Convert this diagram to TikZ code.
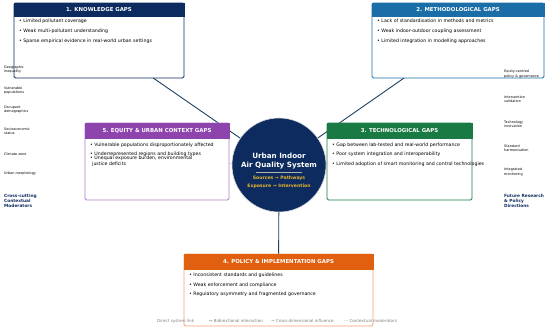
\documentclass[tikz,border=0pt]{standalone}
\usepackage{fontspec}
\setmainfont{DejaVu Sans}
\usepackage{tikz}
\usetikzlibrary{backgrounds}

\definecolor{CoreNavy}{HTML}{0D2B5E}
\definecolor{MethodBlue}{HTML}{1A6DA6}
\definecolor{TechGreen}{HTML}{1A7A44}
\definecolor{EquityPurple}{HTML}{8E44AD}
\definecolor{EquityLine}{HTML}{B27CC6}
\definecolor{PolicyOrange}{HTML}{E0600F}
\definecolor{PolicyLine}{HTML}{EFA274}
\definecolor{FlowGold}{HTML}{E8B32E}
\definecolor{LinkNavy}{HTML}{1F3F63}

\tikzset{
  gapbox/.style={draw=#1, fill=white, line width=0.8pt, rounded corners=1.5pt,
    anchor=north west, inner sep=0pt, outer sep=0pt},
  gaphead/.style={draw=#1, fill=#1, line width=0.8pt, text=white,
    font=\fontsize{5.4}{6}\selectfont\bfseries, anchor=north west,
    inner sep=0pt, outer sep=0pt},
  gapitem/.style={anchor=west, align=left, inner sep=0pt,
    font=\fontsize{4.7}{6}\selectfont},
  sidelabel/.style={anchor=west, align=left, inner sep=0pt,
    font=\fontsize{3.4}{4.4}\selectfont},
  sidehead/.style={anchor=west, align=left, inner sep=0pt, text=CoreNavy,
    font=\fontsize{4.3}{5.2}\selectfont\bfseries},
  corelink/.style={draw=LinkNavy, line width=0.9pt},
  softlink/.style={draw=gray!35, line width=0.5pt},
  legendtext/.style={anchor=west, inner sep=0pt, text=gray,
    font=\fontsize{4.1}{5}\selectfont},
}

\begin{document}
\begin{tikzpicture}[x=1pt, y=-1pt]
\useasboundingbox (0,0) rectangle (550,329);
%%
\node (sys_core) at (279,165)
  [circle, fill=CoreNavy, draw=gray!30, line width=0.6pt,
   minimum size=94pt, inner sep=0pt] {};
\node (sys_title) at (279,161.5)
  [align=center, text=white, font=\fontsize{7.2}{9}\selectfont\bfseries]
  {Urban Indoor\\Air Quality System};
\draw [gray!60, line width=0.4pt] (256,172) -- (302,172);
\node (sys_flow) at (279,182)
  [align=center, text=FlowGold, font=\fontsize{4.6}{8}\selectfont\bfseries]
  {Sources → Pathways\\Exposure → Intervention};

%% 1. knowledge
\node (gap_knowledge) at (14,3)
  [gapbox=CoreNavy, minimum width=170pt, minimum height=75pt] {};
\node (head_knowledge) at (gap_knowledge.north west)
  [gaphead=CoreNavy, minimum width=170pt, minimum height=13pt] {1. KNOWLEDGE GAPS};
\node (k_a) at (19,21) [gapitem] {• Limited pollutant coverage};
\node (k_b) at (19,31) [gapitem] {• Weak multi-pollutant understanding};
\node (k_c) at (19,41) [gapitem] {• Sparse empirical evidence in real-world urban settings};

%% 2. methodological
\node (gap_method) at (372,3)
  [gapbox=MethodBlue, minimum width=172pt, minimum height=75pt] {};
\node (head_method) at (gap_method.north west)
  [gaphead=MethodBlue, minimum width=172pt, minimum height=13pt] {2. METHODOLOGICAL GAPS};
\node (m_a) at (377,21) [gapitem] {• Lack of standardisation in methods and metrics};
\node (m_b) at (377,31) [gapitem] {• Weak indoor-outdoor coupling assessment};
\node (m_c) at (377,41) [gapitem] {• Limited integration in modelling approaches};

%% 5. equity
\node (gap_equity) at (85,123)
  [gapbox=EquityLine, minimum width=144pt, minimum height=77pt] {};
\node (head_equity) at (gap_equity.north west)
  [gaphead=EquityPurple, minimum width=144pt, minimum height=15pt] {5. EQUITY \& URBAN CONTEXT GAPS};
\node (e_a) at (90,145) [gapitem] {• Vulnerable populations disproportionately affected};
\node (e_b) at (90,154.5) [gapitem] {• Underrepresented regions and building types};
\node (e_c) at (90,161.5) [gapitem]
  {• Unequal exposure burden, environmental\\\hspace{2pt}justice deficits};

%% 3. technological
\node (gap_tech) at (327,123)
  [gapbox=TechGreen, minimum width=145pt, minimum height=77pt] {};
\node (head_tech) at (gap_tech.north west)
  [gaphead=TechGreen, minimum width=145pt, minimum height=15pt] {3. TECHNOLOGICAL GAPS};
\node (t_a) at (332,145) [gapitem] {• Gap between lab-tested and real-world performance};
\node (t_b) at (332,154.5) [gapitem] {• Poor system integration and interoperability};
\node (t_c) at (332,164) [gapitem] {• Limited adoption of smart monitoring and control technologies};

%% 4. policy
\node (gap_policy) at (184,254)
  [gapbox=PolicyLine, minimum width=189pt, minimum height=72pt] {};
\node (head_policy) at (gap_policy.north west)
  [gaphead=PolicyOrange, minimum width=189pt, minimum height=15pt] {4. POLICY \& IMPLEMENTATION GAPS};
\node (p_a) at (189,275) [gapitem] {• Inconsistent standards and guidelines};
\node (p_b) at (189,285) [gapitem] {• Weak enforcement and compliance};
\node (p_c) at (189,294) [gapitem] {• Regulatory asymmetry and fragmented governance};

%% links behind everything
\begin{pgfonlayer}{background}
\draw [corelink] (gap_knowledge.center) -- (sys_core.center);
\draw [corelink] (gap_method.center) -- (sys_core.center);
\draw [corelink] (gap_policy.center) -- (sys_core.center);
\draw [softlink] (gap_equity.center) -- (sys_core.center);
\draw [softlink] (gap_tech.center) -- (sys_core.center);
\end{pgfonlayer}

%% contextual moderators
\node (mod_geo) at (4,69.5) [sidelabel] {Geographic\\inequality};
\node (mod_vuln) at (4,90.5) [sidelabel] {Vulnerable\\populations};
\node (mod_occ) at (4,109.5) [sidelabel] {Occupant\\demographics};
\node (mod_ses) at (4,131.5) [sidelabel] {Socioeconomic\\status};
\node (mod_clim) at (4,154) [sidelabel] {Climate zone};
\node (mod_urb) at (4,174) [sidelabel] {Urban morphology};
\node (mod_head) at (4,201) [sidehead] {Cross-cutting\\Contextual\\Moderators};

%% future directions
\node (fut_equity) at (504,74) [sidelabel] {Equity-centred\\policy \& governance};
\node (fut_valid) at (504,99) [sidelabel] {Intervention\\validation};
\node (fut_tech) at (504,124) [sidelabel] {Technology\\innovation};
\node (fut_std) at (504,148) [sidelabel] {Standard\\harmonisation};
\node (fut_mon) at (504,172) [sidelabel] {Integrated\\monitoring};
\node (fut_head) at (504,201) [sidehead] {Future Research\\\& Policy\\Directions};

%% legend
\node (leg_direct) at (157,321) [legendtext] {Direct system link};
\node (leg_bidir) at (209,321) [legendtext] {↔ Bidirectional interaction};
\node (leg_cross) at (271,321) [legendtext] {→ Cross-dimensional influence};
\node (leg_ctx) at (344,321) [legendtext] {⋯ Contextual moderators};
\end{tikzpicture}
\end{document}
